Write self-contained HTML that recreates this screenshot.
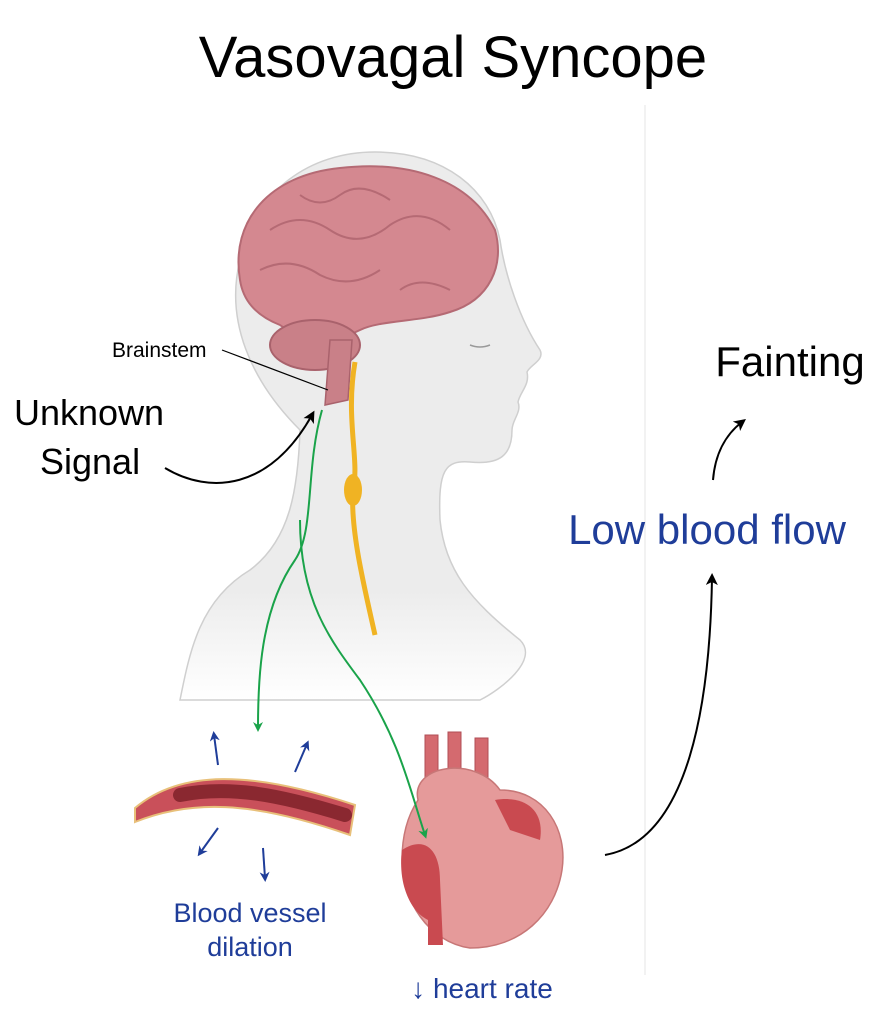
<!DOCTYPE html>
<html><head><meta charset="utf-8"><style>
html,body{margin:0;padding:0;background:#fff;}
svg{display:block;font-family:"Liberation Sans",Arial,sans-serif;}
</style></head><body>
<svg width="887" height="1024" viewBox="0 0 887 1024" xmlns="http://www.w3.org/2000/svg">
<defs>
<marker id="ab" markerWidth="12" markerHeight="12" refX="7" refY="6" orient="auto" markerUnits="userSpaceOnUse"><path d="M0,0 L12,6 L0,12 L3,6z" fill="#000"/></marker>
<marker id="ag" markerWidth="10" markerHeight="10" refX="6" refY="5" orient="auto" markerUnits="userSpaceOnUse"><path d="M0,0 L10,5 L0,10 L3,5z" fill="#1aa34a"/></marker>
<marker id="au" markerWidth="10" markerHeight="10" refX="6" refY="5" orient="auto" markerUnits="userSpaceOnUse"><path d="M0,0 L10,5 L0,10 L3,5z" fill="#1f3d99"/></marker>
<linearGradient id="fade" x1="0" y1="0" x2="0" y2="1"><stop offset="0.8" stop-color="#ececec"/><stop offset="1" stop-color="#ececec" stop-opacity="0"/></linearGradient>
</defs>
<text x="453" y="77" font-size="58" text-anchor="middle">Vasovagal Syncope</text>
<line x1="645" y1="105" x2="645" y2="975" stroke="#eee" stroke-width="1.5"/>
<path d="M300,430 C250,380 225,320 240,260 C255,190 310,152 375,152 C445,152 490,190 500,240 C505,275 520,320 540,350 C545,360 530,365 527,372 C530,385 520,392 518,402 C522,412 512,420 512,430 C512,455 500,465 470,462 C445,460 438,470 440,520 C445,570 470,600 520,640 C540,660 500,690 480,700 L180,700 C190,650 200,600 250,570 C290,540 298,490 300,430Z" fill="url(#fade)" stroke="#cfcfcf" stroke-width="1.5"/>
<path d="M470,345 q10,4 20,0" stroke="#999" fill="none" stroke-width="1.5"/>
<path d="M240,280 C230,220 270,175 340,168 C410,160 470,180 495,230 C505,265 490,300 450,312 C420,322 380,320 360,330 C330,345 300,340 280,325 C255,315 243,300 240,280Z" fill="#d48890" stroke="#b56a74" stroke-width="2"/>
<path d="M270,230 q30,-20 60,0 q30,20 60,-5 q30,-20 60,5 M260,270 q30,-15 60,5 q30,15 60,-5 M300,195 q20,15 40,0 q20,-15 50,5 M400,290 q20,-15 50,0" stroke="#b56a74" fill="none" stroke-width="2"/>
<ellipse cx="315" cy="345" rx="45" ry="25" fill="#c98088" stroke="#a9626c" stroke-width="2"/>
<path d="M330,340 L352,340 L348,400 L325,405Z" fill="#c98088" stroke="#a9626c" stroke-width="1.5"/>
<path d="M355,362 C345,420 360,460 353,490 C350,530 365,590 375,635" stroke="#f0b323" stroke-width="5" fill="none"/>
<ellipse cx="353" cy="490" rx="9" ry="16" fill="#f0b323"/>
<text x="112" y="357" font-size="21">Brainstem</text>
<line x1="222" y1="350" x2="328" y2="390" stroke="#000" stroke-width="1.2"/>
<text x="14" y="425" font-size="36">Unknown</text>
<text x="40" y="474" font-size="36">Signal</text>
<path d="M165,468 C210,495 270,490 312,415" stroke="#000" stroke-width="2" fill="none" marker-end="url(#ab)"/>
<path d="M322,410 C305,470 315,530 295,560 C260,610 258,680 258,728" stroke="#1aa34a" stroke-width="2" fill="none" marker-end="url(#ag)"/>
<!-- vessel -->
<path d="M135,808 C180,770 250,770 355,805 L350,835 C250,800 190,800 135,822Z" fill="#c9505a" stroke="#e8c07a" stroke-width="2"/>
<path d="M180,795 C230,785 280,795 345,815" stroke="#8a2830" stroke-width="14" fill="none" stroke-linecap="round"/>
<g stroke="#1f3d99" stroke-width="2" fill="none">
<path d="M218,765 l-4,-30" marker-end="url(#au)"/>
<path d="M295,772 l12,-28" marker-end="url(#au)"/>
<path d="M218,828 l-18,25" marker-end="url(#au)"/>
<path d="M263,848 l2,30" marker-end="url(#au)"/>
</g>
<text x="250" y="922" font-size="27" fill="#1f3d99" text-anchor="middle">Blood vessel</text>
<text x="250" y="956" font-size="27" fill="#1f3d99" text-anchor="middle">dilation</text>
<!-- heart -->
<path d="M425,735 l13,0 l0,60 l-13,0z M448,732 l13,0 l0,50 l-13,0z M475,738 l13,0 l0,45 l-13,0z" fill="#d46a6f" stroke="#b04d55"/>
<path d="M418,800 C410,765 475,755 500,790 C545,790 568,830 562,870 C555,915 520,948 470,948 C428,942 402,900 402,860 C402,835 408,815 418,800Z" fill="#e59a9a" stroke="#c77777" stroke-width="1.5"/>
<path d="M402,850 C398,880 408,910 428,920 L428,945 L443,945 L440,880 C440,850 425,835 402,850Z" fill="#c94a50"/>
<path d="M495,800 C525,795 545,810 540,840 L510,830Z" fill="#c94a50"/>
<path d="M300,520 C300,600 330,640 360,680 C400,740 410,790 425,835" stroke="#1aa34a" stroke-width="2" fill="none" marker-end="url(#ag)"/>
<text x="482" y="998" font-size="28" fill="#1f3d99" text-anchor="middle">↓ heart rate</text>
<path d="M605,855 C690,840 710,700 712,578" stroke="#000" stroke-width="2" fill="none" marker-end="url(#ab)"/>
<text x="707" y="544" font-size="42" fill="#1f3d99" text-anchor="middle">Low blood flow</text>
<path d="M713,480 C715,455 725,435 742,422" stroke="#000" stroke-width="2" fill="none" marker-end="url(#ab)"/>
<text x="790" y="376" font-size="42" text-anchor="middle">Fainting</text>
</svg>
</body></html>
